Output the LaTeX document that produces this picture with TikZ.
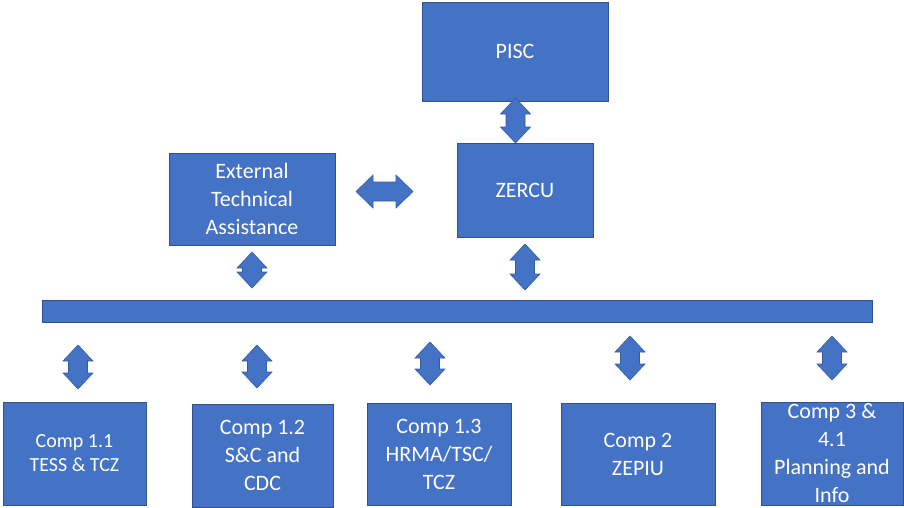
\documentclass[tikz,border=0pt]{standalone}
\usepackage{fontspec}
\setmainfont{Carlito}
\definecolor{boxfill}{HTML}{4472C4}
\definecolor{boxline}{HTML}{2F528F}
\newcommand\vblock[3]{\filldraw[arr] (#1,#2) -- (#1+15,#2+16) -- (#1+9.5,#2+16) -- (#1+9.5,#3-16) -- (#1+15,#3-16) -- (#1,#3) -- (#1-15,#3-16) -- (#1-9.5,#3-16) -- (#1-9.5,#2+16) -- (#1-15,#2+16) -- cycle;}
\newcommand\hblock[3]{\filldraw[arr] (#2,#1) -- (#2+17,#1-16.5) -- (#2+17,#1-9.5) -- (#3-17,#1-9.5) -- (#3-17,#1-16.5) -- (#3,#1) -- (#3-17,#1+16.5) -- (#3-17,#1+9.5) -- (#2+17,#1+9.5) -- (#2+17,#1+16.5) -- cycle;}
\begin{document}
\begin{tikzpicture}[x=1pt,y=-1pt,
  box/.style={draw=boxline, fill=boxfill, line width=1pt, text=white, align=center,
    font=\fontsize{22}{28}\selectfont, inner sep=0pt},
  smallbox/.style={box, font=\fontsize{20}{24}\selectfont},
  arr/.style={fill=boxfill, draw=boxline!70!boxfill, line width=0.6pt, line join=miter}]
\useasboundingbox (0,0) rectangle (904,507);
% top boxes
\node[box, minimum width=186, minimum height=99] (pisc) at (515,51.5) {PISC};
\node[box, minimum width=136, minimum height=94] (zercu) at (525,190) {ZERCU};
\node[box, minimum width=166, minimum height=92] (eta) at (252,199) {External\\Technical\\Assistance};
% bar
\node[box, minimum width=830, minimum height=22] (bar) at (457,311.5) {};
% bottom boxes
\node[smallbox, minimum width=143, minimum height=103] (c11) at (74.5,453.5) {Comp 1.1\\TESS \& TCZ};
\node[box, minimum width=141, minimum height=103] (c12) at (262.5,455.5) {Comp 1.2\\S\&C and\\CDC};
\node[box, minimum width=144, minimum height=102] (c13) at (439,454) {Comp 1.3\\HRMA/TSC/\\TCZ};
\node[box, minimum width=154, minimum height=102] (c2) at (638,454) {Comp 2\\ZEPIU};
\node[box, minimum width=142, minimum height=103] (c3) at (832,453.5) {Comp 3 \&\\4.1\\Planning and\\Info};
% block arrows
\vblock{515.5}{98}{143}
\hblock{191.5}{356}{413}
\vblock{525}{244}{290}
\vblock{252}{252}{288}
\vblock{78}{345}{389}
\vblock{257}{345}{388}
\vblock{430}{342}{385}
\vblock{630}{336}{380}
\vblock{832}{336}{380}
\end{tikzpicture}
\end{document}
